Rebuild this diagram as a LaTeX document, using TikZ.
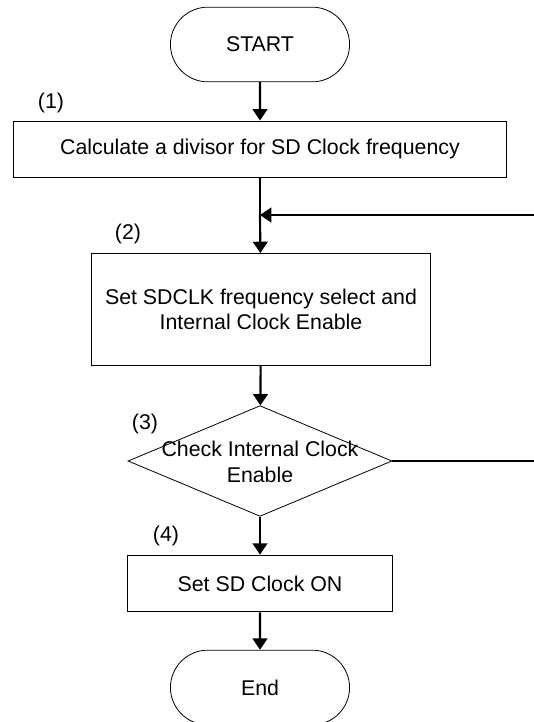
\documentclass[tikz,border=0pt]{standalone}
\usepackage{fontspec}
\setmainfont{Liberation Sans}
\usetikzlibrary{shapes.misc, shapes.geometric, arrows.meta}

\tikzset{
  term/.style={rounded rectangle, draw, line width=0.6pt, minimum width=141pt, minimum height=56pt},
  stepbox/.style={draw, line width=0.7pt, inner sep=0pt},
  flow/.style={line width=1.6pt, -{Triangle[width=11pt,length=8.5pt]}},
  tag/.style={inner sep=0pt}
}

\begin{document}
\begin{tikzpicture}[x=0.75pt, y=-0.75pt, font=\fontsize{16}{19}\selectfont]

% Page frame
\useasboundingbox (0,0) rectangle (534,722);

% Terminals
\node[term] (start) at (260,44.5) {START};
\node[term] (stop) at (260,687.5) {End};

% Process boxes
\node[stepbox, minimum width=370pt, minimum height=42pt] (calc) at (260,149) {Calculate a divisor for SD Clock frequency};
\node[stepbox, minimum width=254pt, minimum height=84pt, align=center] (setclk) at (261,309.5) {Set SDCLK frequency select and\\Internal Clock Enable};
\node[stepbox, minimum width=199pt, minimum height=42.5pt] (sdon) at (260,583.5) {Set SD Clock ON};

% Decision
\node[diamond, draw, line width=0.6pt, minimum width=198pt, minimum height=83pt, inner sep=0pt] (check) at (260,461) {};
\node[align=center] (checktxt) at (260,462) {Check Internal Clock\\Enable};

% Step numbers
\node[tag] (n1) at (51,103) {(1)};
\node[tag] (n2) at (128,234) {(2)};
\node[tag] (n3) at (145,424) {(3)};
\node[tag] (n4) at (166,536) {(4)};

% Loop ends on the right
\coordinate (loopin) at (534,215);
\coordinate (loopout) at (534,461);
\coordinate (join) at (260,215);

% Connectors
\draw[flow] (start) -- (calc);
\draw[line width=1.6pt] (calc) -- (join);
\draw[flow] (join) -- (setclk);
\draw[flow] (loopin) -- (join);
\draw[flow] (setclk) -- (check);
\draw[line width=1.6pt] (check.east) -- (loopout);
\draw[flow] (check) -- (sdon);
\draw[flow] (sdon) -- (stop);

\end{tikzpicture}
\end{document}
